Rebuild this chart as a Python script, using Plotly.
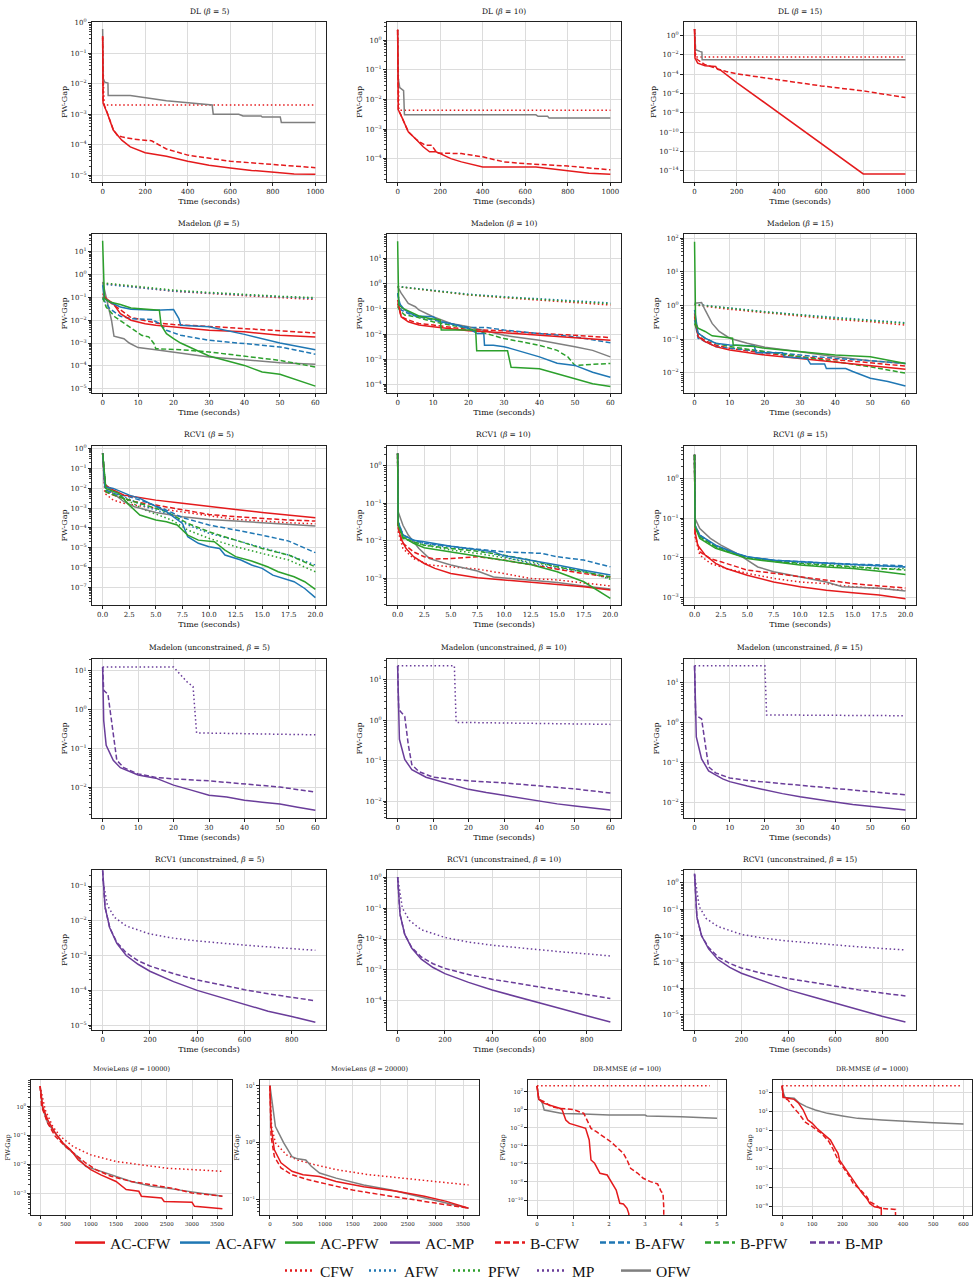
import math
import plotly.graph_objects as go

W, H = 980, 1284

# ---------------- data: time (s) and log10(FW-gap) ----------------
DL5 = {
    "AC-CFW": ([0, 2, 22, 50, 90, 130, 200, 300, 400, 500, 600, 700, 820, 900, 1000],
               [-0.45, -2.64, -2.97, -3.52, -3.85, -4.07, -4.26, -4.38, -4.54, -4.67, -4.76, -4.84, -4.91, -4.96, -4.97]),
    "B-CFW": ([0, 2, 22, 50, 70, 95, 150, 230, 300, 400, 600, 800, 1000],
              [-0.45, -2.6, -2.96, -3.5, -3.7, -3.75, -3.82, -3.87, -4.14, -4.34, -4.54, -4.65, -4.75]),
    "CFW": ([0, 2, 5, 8, 1000], [-0.5, -1.6, -2.3, -2.7, -2.7]),
    "OFW": ([0, 3, 10, 25, 26, 130, 300, 515, 520, 640, 660, 745, 750, 835, 840, 1000],
            [-0.21, -1.85, -1.95, -1.98, -2.39, -2.39, -2.56, -2.70, -3.0, -3.0, -3.06, -3.06, -3.09, -3.09, -3.27, -3.27]),
}
DL10 = {
    "AC-CFW": ([0, 3, 15, 25, 50, 90, 120, 150, 180, 200, 250, 300, 400, 650, 800, 900, 1000],
               [0.36, -2.35, -2.52, -2.69, -3.09, -3.37, -3.6, -3.77, -3.77, -3.83, -4.0, -4.11, -4.28, -4.28, -4.42, -4.49, -4.53]),
    "B-CFW": ([0, 3, 15, 25, 50, 90, 130, 160, 185, 300, 400, 500, 600, 800, 1000],
              [0.36, -2.35, -2.52, -2.69, -3.09, -3.37, -3.55, -3.55, -3.81, -3.83, -3.94, -4.11, -4.17, -4.25, -4.38]),
    "CFW": ([0, 3, 6, 1000], [0.36, -1.7, -2.36, -2.36]),
    "OFW": ([0, 3, 10, 28, 32, 650, 660, 705, 712, 1000],
            [0.36, -1.3, -1.6, -1.7, -2.52, -2.52, -2.57, -2.57, -2.63, -2.63]),
}
DL15 = {
    "AC-CFW": ([0, 2, 15, 50, 100, 110, 125, 200, 800, 1000],
               [0.7, -2.33, -2.85, -3.12, -3.2, -3.5, -3.6, -4.86, -14.34, -14.34]),
    "B-CFW": ([0, 3, 15, 50, 100, 150, 200, 400, 600, 800, 1000],
              [0.7, -2.22, -2.5, -3.02, -3.37, -3.72, -3.96, -4.58, -5.21, -5.73, -6.42]),
    "CFW": ([0, 3, 6, 1000], [0.7, -1.5, -2.22, -2.22]),
    "OFW": ([0, 5, 25, 35, 36, 1000], [0.7, -1.46, -1.63, -1.7, -2.5, -2.5]),
}
MAD5 = {
    "AC-CFW": ([0, 1, 3, 5, 8, 12, 15, 20, 30, 40, 50, 60],
               [-0.83, -1.05, -1.27, -1.71, -2.0, -2.15, -2.22, -2.29, -2.44, -2.51, -2.66, -2.73]),
    "AC-AFW": ([0, 0.5, 2, 5, 8, 15, 20, 21.5, 22, 30, 40, 50, 60],
               [-0.46, -1.05, -1.2, -1.42, -1.52, -1.56, -1.53, -1.93, -2.22, -2.29, -2.62, -3.0, -3.29]),
    "AC-PFW": ([0, 0.5, 2, 5, 8, 15, 16, 16.5, 18, 20, 22, 30, 40, 45, 50, 60],
               [1.48, -1.05, -1.2, -1.31, -1.46, -1.52, -1.56, -2.22, -2.59, -2.81, -3.0, -3.57, -3.98, -4.27, -4.37, -4.89]),
    "B-CFW": ([0, 2, 5, 8, 15, 20, 30, 40, 50, 60],
              [-0.98, -1.2, -1.56, -1.88, -2.12, -2.19, -2.27, -2.37, -2.47, -2.56]),
    "B-AFW": ([0, 2, 5, 8, 14, 16, 18, 22, 30, 40, 50, 60],
              [-1.05, -1.49, -1.83, -1.93, -1.97, -2.15, -2.44, -2.66, -2.88, -3.03, -3.17, -3.49]),
    "B-PFW": ([0, 1, 3.5, 7, 11, 13, 14.5, 15, 22, 30, 40, 50, 60],
              [-1.0, -1.42, -1.86, -2.22, -2.66, -2.73, -3.03, -3.25, -3.29, -3.39, -3.58, -3.76, -4.05]),
    "CFW": ([0, 10, 20, 30, 40, 50, 60], [-0.39, -0.57, -0.73, -0.83, -0.93, -1.01, -1.09]),
    "AFW": ([0, 10, 20, 30, 40, 50, 60], [-0.42, -0.58, -0.72, -0.81, -0.9, -0.98, -1.05]),
    "PFW": ([0, 10, 20, 30, 40, 50, 60], [-0.36, -0.53, -0.68, -0.78, -0.87, -0.95, -1.01]),
    "OFW": ([0, 1, 2.5, 3.2, 6, 7.5, 9, 10, 15, 20, 25, 30, 40, 50, 60],
            [-0.32, -0.98, -2.0, -2.7, -2.81, -3.0, -3.1, -3.2, -3.29, -3.39, -3.49, -3.61, -3.73, -3.86, -3.93]),
}
MAD10 = {
    "AC-CFW": ([0, 1, 3, 6, 10, 14, 20, 30, 40, 50, 60],
               [-0.64, -1.31, -1.51, -1.64, -1.71, -1.78, -1.87, -1.95, -2.05, -2.14, -2.25]),
    "AC-AFW": ([0, 0.5, 2, 5, 10, 12, 15, 20, 22.5, 24.3, 24.5, 27, 30, 32, 40, 45, 50, 55, 60],
               [-0.37, -0.78, -1.04, -1.28, -1.31, -1.51, -1.58, -1.78, -1.98, -1.98, -2.45, -2.45, -2.51, -2.58, -2.91, -3.16, -3.25, -3.52, -3.72]),
    "AC-PFW": ([0, 0.3, 1.5, 3, 6, 9, 12, 12.3, 22, 22.3, 31, 32, 40, 45, 50, 55, 60],
               [1.7, -0.84, -0.98, -1.08, -1.28, -1.38, -1.44, -1.84, -1.84, -2.67, -2.67, -3.32, -3.38, -3.58, -3.78, -3.98, -4.09]),
    "B-CFW": ([0, 1, 3, 6, 10, 15, 20, 30, 40, 50, 60],
              [-0.78, -1.31, -1.44, -1.58, -1.64, -1.74, -1.82, -1.87, -1.98, -2.05, -2.14]),
    "B-AFW": ([0, 1, 3, 6, 10, 15, 20, 25, 30, 40, 50, 60],
              [-0.37, -1.04, -1.18, -1.31, -1.44, -1.58, -1.74, -1.74, -1.84, -1.98, -2.11, -2.35]),
    "B-PFW": ([0, 0.5, 2, 5, 10, 15, 20, 25, 30, 35, 40, 45, 48, 50, 55, 60],
              [-0.9, -1.04, -1.24, -1.31, -1.51, -1.64, -1.78, -1.98, -2.18, -2.31, -2.45, -2.65, -2.91, -3.25, -3.22, -3.17]),
    "CFW": ([0, 10, 20, 30, 40, 50, 60], [-0.11, -0.28, -0.44, -0.55, -0.64, -0.75, -0.84]),
    "AFW": ([0, 10, 20, 30, 40, 50, 60], [-0.1, -0.26, -0.41, -0.51, -0.6, -0.7, -0.76]),
    "PFW": ([0, 10, 20, 30, 40, 50, 60], [-0.11, -0.27, -0.43, -0.53, -0.62, -0.72, -0.79]),
    "OFW": ([0, 1, 3, 5, 6, 10, 15, 20, 30, 40, 50, 55, 60],
            [-0.11, -0.37, -0.78, -0.91, -1.04, -1.31, -1.58, -1.71, -2.05, -2.25, -2.51, -2.65, -2.91]),
}
MAD15 = {
    "AC-CFW": ([0, 1, 3, 6, 10, 20, 30, 40, 50, 60],
               [-0.23, -0.92, -1.07, -1.22, -1.32, -1.47, -1.57, -1.67, -1.77, -1.89]),
    "AC-AFW": ([0, 1, 3, 6, 10, 17, 17.5, 25, 25.5, 32, 33, 37, 37.5, 43, 45, 50, 55, 60],
               [-0.13, -0.82, -0.97, -1.12, -1.17, -1.2, -1.4, -1.4, -1.52, -1.57, -1.74, -1.74, -1.87, -1.87, -1.96, -2.16, -2.26, -2.39]),
    "AC-PFW": ([0, 0.3, 1, 3, 5, 10.8, 11, 17, 20, 30, 40, 50, 58, 60],
               [1.9, -0.53, -0.67, -0.77, -0.9, -0.97, -1.17, -1.22, -1.27, -1.37, -1.47, -1.52, -1.67, -1.72]),
    "B-CFW": ([0, 1, 3, 6, 10, 20, 30, 40, 50, 60],
              [-0.33, -0.9, -1.04, -1.17, -1.27, -1.42, -1.52, -1.6, -1.7, -1.8]),
    "B-AFW": ([0, 1, 3, 6, 10, 20, 30, 40, 50, 60],
              [-0.43, -0.97, -1.07, -1.22, -1.27, -1.37, -1.47, -1.57, -1.64, -1.72]),
    "B-PFW": ([0, 1, 3, 6, 10, 20, 30, 40, 50, 60],
              [-0.53, -0.82, -0.97, -1.12, -1.22, -1.37, -1.52, -1.67, -1.82, -2.01]),
    "CFW": ([0, 10, 20, 30, 40, 50, 60], [0.02, -0.11, -0.21, -0.31, -0.41, -0.48, -0.58]),
    "AFW": ([0, 10, 20, 30, 40, 50, 60], [0.04, -0.08, -0.18, -0.27, -0.36, -0.43, -0.51]),
    "PFW": ([0, 10, 20, 30, 40, 50, 60], [0.03, -0.09, -0.19, -0.28, -0.38, -0.45, -0.53]),
    "OFW": ([0, 2, 3, 5, 7, 10, 15, 20, 30, 40, 50, 60],
            [0.07, 0.09, -0.13, -0.53, -0.77, -0.97, -1.12, -1.24, -1.37, -1.52, -1.64, -1.72]),
}
RCV5 = {
    "AC-CFW": ([0, 0.2, 1, 2, 3, 5, 7.5, 10, 12.5, 15, 17.5, 20],
               [-0.25, -1.84, -2.09, -2.35, -2.43, -2.6, -2.76, -2.9, -3.07, -3.22, -3.35, -3.48]),
    "AC-AFW": ([0, 0.2, 1, 2.5, 3.5, 5, 6, 7.5, 8, 9, 10, 11, 11.5, 13, 14, 15, 16, 18, 19, 20],
               [-0.25, -1.93, -2.01, -2.35, -2.51, -2.93, -3.18, -3.77, -4.44, -4.77, -4.94, -5.03, -5.36, -5.61, -5.86, -6.03, -6.37, -6.7, -7.04, -7.5]),
    "AC-PFW": ([0, 0.3, 1.5, 2.5, 3.5, 5, 6, 7, 8, 9, 10.5, 11.5, 12.5, 14, 15.5, 16.5, 18, 19, 20],
               [-0.25, -2.01, -2.26, -2.85, -3.35, -3.6, -3.69, -3.85, -4.36, -4.61, -4.69, -5.11, -5.44, -5.66, -5.95, -6.2, -6.45, -6.7, -7.09]),
    "B-CFW": ([0, 0.3, 1, 2, 3, 5, 7.5, 10, 12.5, 15, 17.5, 20],
              [-0.25, -2.18, -2.35, -2.51, -2.68, -2.85, -3.1, -3.32, -3.43, -3.52, -3.6, -3.65]),
    "B-AFW": ([0, 0.3, 1, 2.5, 4, 6, 7.5, 10, 12.5, 15, 17.5, 20],
              [-0.25, -2.09, -2.26, -2.43, -2.68, -3.1, -3.48, -3.85, -4.1, -4.36, -4.66, -5.24]),
    "B-PFW": ([0, 0.3, 1.5, 3, 6, 8, 10, 12.5, 15, 17.5, 20],
              [-0.25, -2.18, -2.43, -2.68, -3.18, -3.77, -4.19, -4.61, -5.03, -5.36, -5.95]),
    "CFW": ([0, 0.2, 1, 2, 4, 7, 10, 12.5, 15, 17.5, 20],
            [-0.25, -2.26, -2.6, -2.76, -2.93, -3.15, -3.38, -3.57, -3.65, -3.74, -3.79]),
    "AFW": ([0, 0.3, 2, 4, 6.5, 8, 10, 12.5, 15, 17.5, 20],
            [-0.25, -2.09, -2.43, -2.93, -3.35, -3.85, -4.27, -4.61, -4.99, -5.36, -5.86]),
    "PFW": ([0, 0.3, 2, 4, 6.5, 8, 10, 12.5, 15, 17.5, 20],
            [-0.25, -2.18, -2.51, -3.1, -3.6, -4.1, -4.52, -4.94, -5.28, -5.61, -6.2]),
    "OFW": ([0, 0.2, 1, 2, 3, 5, 7.5, 10, 12.5, 15, 17.5, 20],
            [-0.25, -1.76, -2.26, -2.68, -2.93, -3.22, -3.43, -3.57, -3.65, -3.74, -3.82, -3.9]),
}
RCV10 = {
    "AC-CFW": ([0, 0.05, 0.3, 0.8, 1.5, 2.5, 3.5, 5, 7.5, 10, 12.5, 15, 17.5, 20],
               [0.33, -1.59, -1.94, -2.21, -2.43, -2.61, -2.74, -2.88, -2.99, -3.05, -3.1, -3.17, -3.23, -3.32]),
    "AC-AFW": ([0, 0.05, 0.5, 1.5, 2.5, 5, 7.5, 9, 10, 12.5, 15, 17.5, 20],
               [0.33, -1.5, -1.85, -1.99, -2.03, -2.15, -2.24, -2.3, -2.4, -2.52, -2.65, -2.79, -2.92]),
    "AC-PFW": ([0, 0.05, 0.5, 1.5, 2.5, 5, 7.5, 10, 12.5, 15, 17.5, 20],
               [0.33, -1.59, -1.9, -2.07, -2.19, -2.3, -2.43, -2.52, -2.64, -2.83, -3.1, -3.54]),
    "B-CFW": ([0, 0.05, 0.5, 1.5, 2.5, 3.5, 5, 7.5, 10, 12.5, 15, 17.5, 20],
              [0.33, -1.67, -2.07, -2.3, -2.43, -2.49, -2.48, -2.43, -2.52, -2.64, -2.74, -2.88, -2.97]),
    "B-AFW": ([0, 0.05, 0.5, 1.5, 2.5, 5, 7.5, 10, 13.5, 15, 17.5, 20],
              [0.33, -1.5, -1.85, -1.99, -2.07, -2.16, -2.23, -2.3, -2.34, -2.43, -2.52, -2.7]),
    "B-PFW": ([0, 0.05, 0.5, 1.5, 2.5, 5, 7.5, 10, 12.5, 15, 17.5, 20],
              [0.33, -1.59, -1.94, -2.03, -2.12, -2.21, -2.28, -2.39, -2.52, -2.7, -2.83, -2.97]),
    "CFW": ([0, 0.05, 0.5, 1.5, 3, 5, 7.5, 10, 12.5, 15, 17.5, 20],
            [0.33, -1.76, -2.21, -2.48, -2.65, -2.7, -2.76, -2.88, -3.01, -3.05, -3.14, -3.21]),
    "AFW": ([0, 0.05, 0.5, 1.5, 2.5, 5, 7.5, 10, 12.5, 15, 17.5, 20],
            [0.33, -1.5, -1.85, -1.99, -2.07, -2.19, -2.25, -2.43, -2.61, -2.74, -2.83, -3.01]),
    "PFW": ([0, 0.05, 0.5, 1.5, 2.5, 5, 7.5, 10, 12.5, 15, 17.5, 20],
            [0.33, -1.59, -1.9, -2.03, -2.12, -2.25, -2.34, -2.46, -2.56, -2.7, -2.81, -3.03]),
    "OFW": ([0, 0.05, 0.5, 1, 2, 3, 5, 7.5, 9, 12.5, 15, 17.5, 20],
            [0.33, -1.23, -1.59, -1.85, -2.21, -2.48, -2.65, -2.81, -2.97, -3.05, -3.12, -3.21, -3.29]),
}
RCV15 = {
    "AC-CFW": ([0, 0.05, 0.3, 1, 2, 3, 5, 7.5, 10, 12.5, 15, 17.5, 20],
               [0.6, -1.34, -1.68, -1.93, -2.14, -2.27, -2.44, -2.61, -2.73, -2.82, -2.88, -2.94, -3.03]),
    "AC-AFW": ([0, 0.05, 0.5, 2, 4, 5, 7.5, 10, 12.5, 15, 17.5, 20],
               [0.6, -1.18, -1.43, -1.68, -1.89, -1.97, -2.06, -2.1, -2.14, -2.17, -2.2, -2.23]),
    "AC-PFW": ([0, 0.05, 0.5, 2, 4, 5, 7.5, 10, 12.5, 15, 17.5, 20],
               [0.6, -1.22, -1.51, -1.76, -1.93, -2.02, -2.1, -2.18, -2.23, -2.27, -2.34, -2.42]),
    "B-CFW": ([0, 0.05, 0.5, 1.5, 2.5, 4, 5, 7.5, 10, 12.5, 15, 17.5, 20],
              [0.6, -1.43, -1.85, -2.02, -2.1, -2.23, -2.31, -2.39, -2.48, -2.56, -2.65, -2.71, -2.76]),
    "B-AFW": ([0, 0.05, 0.5, 2, 4, 5, 7.5, 10, 12.5, 15, 17.5, 20],
              [0.6, -1.18, -1.43, -1.7, -1.9, -1.98, -2.06, -2.1, -2.13, -2.16, -2.18, -2.2]),
    "B-PFW": ([0, 0.05, 0.5, 2, 4, 5, 7.5, 10, 12.5, 15, 17.5, 20],
              [0.6, -1.22, -1.47, -1.72, -1.92, -2.0, -2.08, -2.14, -2.18, -2.22, -2.27, -2.31]),
    "CFW": ([0, 0.05, 0.5, 1.5, 3, 5, 7.5, 10, 12.5, 15, 17.5, 20],
            [0.6, -1.47, -1.93, -2.14, -2.27, -2.39, -2.52, -2.61, -2.65, -2.73, -2.77, -2.82]),
    "AFW": ([0, 0.05, 0.5, 2, 4, 5, 7.5, 10, 12.5, 15, 17.5, 20],
            [0.6, -1.2, -1.45, -1.7, -1.9, -1.98, -2.07, -2.12, -2.15, -2.18, -2.21, -2.23]),
    "PFW": ([0, 0.05, 0.5, 2, 4, 5, 7.5, 10, 12.5, 15, 17.5, 20],
            [0.6, -1.22, -1.48, -1.74, -1.92, -2.0, -2.09, -2.16, -2.2, -2.24, -2.28, -2.27]),
    "OFW": ([0, 0.05, 0.5, 1.5, 2.5, 4, 5, 6, 7.5, 10, 12.5, 14, 17.5, 20],
            [0.6, -1.01, -1.26, -1.51, -1.68, -1.89, -2.06, -2.23, -2.35, -2.48, -2.61, -2.73, -2.77, -2.84]),
}
MADU5 = {
    "AC-MP": ([0, 0.3, 1, 3, 5, 10, 15, 20, 25, 30, 35, 40, 45, 50, 55, 60],
              [1.1, -0.28, -0.92, -1.31, -1.5, -1.69, -1.77, -1.95, -2.08, -2.21, -2.26, -2.34, -2.39, -2.44, -2.52, -2.6]),
    "B-MP": ([0, 0.3, 1.5, 2.5, 4, 6, 10, 15, 20, 30, 40, 50, 60],
             [1.1, 0.5, 0.4, -0.28, -1.31, -1.5, -1.66, -1.75, -1.79, -1.84, -1.92, -2.0, -2.13]),
    "MP": ([0, 20, 24, 25.5, 26.5, 60], [1.1, 1.1, 0.7, 0.6, -0.6, -0.65]),
}
MADU10 = {
    "AC-MP": ([0, 0.5, 2, 4, 8, 10, 15, 20, 25, 30, 35, 40, 45, 50, 55, 60],
              [1.35, -0.47, -0.97, -1.22, -1.41, -1.46, -1.59, -1.71, -1.79, -1.86, -1.94, -2.0, -2.07, -2.12, -2.17, -2.22]),
    "B-MP": ([0, 0.3, 2, 3, 4, 6, 10, 15, 20, 30, 40, 50, 60],
             [1.35, 0.27, 0.1, -0.6, -1.1, -1.27, -1.41, -1.46, -1.5, -1.55, -1.62, -1.7, -1.8]),
    "MP": ([0, 16, 16.5, 60], [1.35, 1.35, -0.05, -0.1]),
}
MADU15 = {
    "AC-MP": ([0, 0.5, 2, 4, 8, 10, 15, 20, 25, 30, 35, 40, 45, 50, 55, 60],
              [1.43, -0.35, -0.9, -1.2, -1.4, -1.47, -1.58, -1.68, -1.77, -1.85, -1.92, -1.98, -2.04, -2.09, -2.14, -2.18]),
    "B-MP": ([0, 0.3, 2, 3, 4, 6, 10, 15, 20, 30, 40, 50, 60],
             [1.43, 0.2, 0.1, -0.5, -1.1, -1.25, -1.38, -1.44, -1.48, -1.55, -1.63, -1.71, -1.8]),
    "MP": ([0, 20, 20.5, 60], [1.43, 1.43, 0.2, 0.18]),
}
RCVU_T = [0, 10, 30, 60, 100, 150, 200, 300, 400, 500, 600, 700, 800, 900]
RCVU_MP_T = [0, 20, 50, 100, 200, 300, 400, 500, 600, 700, 800, 900]
RCVU5 = {
    "AC-MP": (RCVU_T, [-0.55, -1.6, -2.2, -2.65, -3.0, -3.25, -3.45, -3.75, -4.0, -4.2, -4.4, -4.6, -4.75, -4.92]),
    "B-MP": (RCVU_T, [-0.55, -1.6, -2.2, -2.62, -2.92, -3.15, -3.3, -3.52, -3.7, -3.85, -3.98, -4.1, -4.2, -4.3]),
    "MP": (RCVU_MP_T, [-0.8, -1.55, -1.9, -2.15, -2.38, -2.5, -2.58, -2.65, -2.7, -2.75, -2.8, -2.85]),
}
RCVU10 = {
    "AC-MP": (RCVU_T, [0.0, -1.2, -1.85, -2.3, -2.65, -2.92, -3.12, -3.4, -3.65, -3.85, -4.05, -4.27, -4.48, -4.68]),
    "B-MP": (RCVU_T, [0.0, -1.2, -1.85, -2.28, -2.58, -2.8, -2.95, -3.15, -3.3, -3.42, -3.55, -3.68, -3.8, -3.92]),
    "MP": (RCVU_MP_T, [0.0, -1.0, -1.4, -1.7, -1.95, -2.1, -2.2, -2.28, -2.35, -2.42, -2.48, -2.55]),
}
RCVU15 = {
    "AC-MP": (RCVU_T, [0.35, -1.3, -2.0, -2.5, -2.9, -3.2, -3.42, -3.75, -4.05, -4.3, -4.55, -4.8, -5.05, -5.27]),
    "B-MP": (RCVU_T, [0.35, -1.3, -2.0, -2.45, -2.8, -3.05, -3.22, -3.45, -3.62, -3.77, -3.92, -4.05, -4.17, -4.28]),
    "MP": (RCVU_MP_T, [0.3, -0.9, -1.35, -1.65, -1.95, -2.1, -2.2, -2.28, -2.35, -2.42, -2.48, -2.54]),
}
ML1 = {
    "AC-CFW": ([0, 50, 150, 300, 450, 600, 750, 1000, 1200, 1500, 1700, 1950, 2000, 2400, 2450, 3000, 3050, 3600],
               [0.71, 0, -0.46, -0.92, -1.26, -1.49, -1.84, -2.18, -2.36, -2.59, -2.87, -2.93, -3.1, -3.16, -3.28, -3.31, -3.45, -3.53]),
    "B-CFW": ([0, 30, 150, 300, 500, 700, 900, 1100, 1400, 1800, 2200, 2600, 3000, 3600],
              [0.71, 0, -0.57, -1.03, -1.38, -1.67, -1.95, -2.18, -2.41, -2.59, -2.7, -2.82, -2.99, -3.1]),
    "CFW": ([0, 100, 250, 400, 650, 1000, 1500, 2000, 2500, 3000, 3600],
            [0.71, -0.11, -0.69, -1.03, -1.38, -1.67, -1.9, -2.01, -2.13, -2.18, -2.24]),
    "OFW": ([0, 50, 150, 350, 500, 700, 900, 1100, 1500, 1800, 2200, 2500, 3000, 3600],
            [0.71, -0.06, -0.57, -1.03, -1.38, -1.67, -2.07, -2.18, -2.41, -2.59, -2.76, -2.82, -2.95, -3.1]),
}
ML2 = {
    "AC-CFW": ([0, 20, 80, 200, 400, 600, 900, 1200, 1700, 2300, 2800, 3200, 3600],
               [1, 0.28, -0.13, -0.36, -0.51, -0.57, -0.6, -0.69, -0.78, -0.86, -0.95, -1.04, -1.16]),
    "B-CFW": ([0, 20, 80, 200, 400, 700, 1100, 1500, 2000, 2500, 3000, 3600],
              [1, 0.11, -0.25, -0.45, -0.57, -0.66, -0.75, -0.84, -0.92, -1.0, -1.07, -1.16]),
    "CFW": ([0, 30, 100, 300, 500, 800, 1200, 1800, 2400, 3000, 3600],
            [1, 0.28, -0.01, -0.22, -0.31, -0.39, -0.48, -0.57, -0.63, -0.69, -0.75]),
    "OFW": ([0, 100, 250, 400, 500, 650, 750, 900, 1200, 1700, 2200, 2700, 3200, 3600],
            [1, 0.28, -0.01, -0.25, -0.29, -0.31, -0.42, -0.54, -0.63, -0.75, -0.84, -0.95, -1.07, -1.16]),
}
DR100 = {
    "AC-CFW": ([0, 0.05, 0.2, 0.35, 0.5, 0.65, 0.7, 0.8, 0.9, 1.2, 1.35, 1.45, 1.5, 1.6, 1.75, 1.95, 2.05, 2.2, 2.3, 2.4, 2.5, 2.55, 2.56],
               [2.66, 1.15, 0.71, 0.52, 0.34, 0.15, -0.03, -1.14, -1.51, -1.87, -2.06, -3.35, -5.56, -5.93, -7.04, -7.23, -7.96, -8.89, -10.36, -10.44, -10.92, -11.5, -20]),
    "B-CFW": ([0, 0.05, 0.2, 0.4, 0.65, 1.0, 1.3, 1.4, 1.5, 1.65, 1.85, 2.05, 2.2, 2.4, 2.5, 2.6, 2.8, 2.95, 3.15, 3.35, 3.45, 3.5, 3.52, 3.53],
              [2.66, 1.15, 0.89, 0.34, 0.15, 0.04, -0.4, -1.32, -2.06, -2.43, -2.98, -3.54, -4.09, -4.83, -5.56, -6.49, -7.04, -7.59, -7.96, -8.22, -9.07, -9.25, -10.73, -20]),
    "CFW": ([0, 4.8], [2.66, 2.66]),
    "OFW": ([0, 0.05, 0.1, 0.15, 0.2, 0.4, 0.7, 1.3, 2, 3, 3.05, 4, 5],
            [2.66, 1.15, 1.08, 0.71, -0.03, -0.21, -0.4, -0.47, -0.58, -0.58, -0.69, -0.77, -0.95]),
}
DR1000 = {
    "AC-CFW": ([0, 5, 20, 40, 55, 70, 85, 100, 115, 135, 160, 175, 185, 190, 205, 220, 235, 250, 265, 280, 290, 305, 328, 329],
               [3.7, 2.47, 2.37, 2.26, 1.84, 1.13, 0.08, -0.27, -0.8, -1.33, -2.04, -2.92, -3.44, -4.15, -4.85, -5.56, -6.26, -6.96, -7.67, -8.2, -8.73, -9.08, -9.2, -20]),
    "B-CFW": ([0, 3, 20, 35, 55, 75, 100, 130, 155, 170, 185, 200, 220, 235, 260, 280, 290, 310, 325, 375, 377],
              [3.7, 2.47, 2.19, 1.49, 0.78, -0.1, -0.63, -1.33, -2.21, -3.09, -4.15, -4.85, -5.73, -6.61, -7.32, -8.02, -8.55, -8.9, -9.25, -9.36, -20]),
    "CFW": ([0, 590], [3.7, 3.7]),
    "OFW": ([0, 3, 10, 40, 55, 80, 110, 150, 200, 250, 330, 420, 500, 600],
            [3.7, 3.07, 2.44, 2.37, 1.91, 1.49, 1.13, 0.78, 0.5, 0.25, 0.08, -0.1, -0.2, -0.35]),
}

LEGEND_ROW1 = ["AC-CFW", "AC-AFW", "AC-PFW", "AC-MP", "B-CFW", "B-AFW", "B-PFW", "B-MP"]
LEGEND_ROW2 = ["CFW", "AFW", "PFW", "MP", "OFW"]

# ---------------- styles ----------------
RED, BLUE, GREEN, PURPLE, GRAY = "#e41a1c", "#1f77b4", "#2ca02c", "#6a3d9a", "#7f7f7f"
DASH, DOT = "5px,2.5px", "1.5px,2.6px"
STYLE = {
    "AC-CFW": (RED, "solid"), "AC-AFW": (BLUE, "solid"), "AC-PFW": (GREEN, "solid"), "AC-MP": (PURPLE, "solid"),
    "B-CFW": (RED, DASH), "B-AFW": (BLUE, DASH), "B-PFW": (GREEN, DASH), "B-MP": (PURPLE, DASH),
    "CFW": (RED, DOT), "AFW": (BLUE, DOT), "PFW": (GREEN, DOT), "MP": (PURPLE, DOT), "OFW": (GRAY, "solid"),
}
DRAW_ORDER = ["CFW", "AFW", "PFW", "MP", "OFW", "B-CFW", "B-AFW", "B-PFW", "B-MP",
              "AC-CFW", "AC-AFW", "AC-PFW", "AC-MP"]

COLS = [(92, 326), (387, 621), (684, 916)]
ROWS = [(22, 182), (234, 393), (446, 605), (659, 818), (870, 1030)]
BCOLS = [(31, 232), (260, 479), (528, 726), (773, 972)]
BROW = (1080, 1215)

B = "<i>β</i>"
X_DL = ([-50, 1050], [0, 200, 400, 600, 800, 1000], None)
X_MAD = ([-3, 63], [0, 10, 20, 30, 40, 50, 60], None)
X_RCV = ([-1, 21], [0, 2.5, 5, 7.5, 10, 12.5, 15, 17.5, 20], ".1f")
X_RU = ([-45, 945], [0, 200, 400, 600, 800], None)
X_ML = ([-180, 3790], [0, 500, 1000, 1500, 2000, 2500, 3000, 3500], None)

# (data, title, x-box, y-box, x-axis, log10 y-range, y-tick step, y-tick parity, small)
panels = [
    (DL5, f"DL ({B} = 5)", COLS[0], ROWS[0], X_DL, (-5.22, 0.02), 1, 0, False),
    (DL10, f"DL ({B} = 10)", COLS[1], ROWS[0], X_DL, (-4.79, 0.62), 1, 0, False),
    (DL15, f"DL ({B} = 15)", COLS[2], ROWS[0], X_DL, (-15.18, 1.42), 2, 0, False),
    (MAD5, f"Madelon ({B} = 5)", COLS[0], ROWS[1], X_MAD, (-5.19, 1.78), 1, 0, False),
    (MAD10, f"Madelon ({B} = 10)", COLS[1], ROWS[1], X_MAD, (-4.35, 1.99), 1, 0, False),
    (MAD15, f"Madelon ({B} = 15)", COLS[2], ROWS[1], X_MAD, (-2.6, 2.13), 1, 0, False),
    (RCV5, f"RCV1 ({B} = 5)", COLS[0], ROWS[2], X_RCV, (-7.87, 0.12), 1, 0, False),
    (RCV10, f"RCV1 ({B} = 10)", COLS[1], ROWS[2], X_RCV, (-3.72, 0.53), 1, 0, False),
    (RCV15, f"RCV1 ({B} = 15)", COLS[2], ROWS[2], X_RCV, (-3.19, 0.82), 1, 0, False),
    (MADU5, f"Madelon (unconstrained, {B} = 5)", COLS[0], ROWS[3], X_MAD, (-2.8, 1.31), 1, 0, False),
    (MADU10, f"Madelon (unconstrained, {B} = 10)", COLS[1], ROWS[3], X_MAD, (-2.42, 1.52), 1, 0, False),
    (MADU15, f"Madelon (unconstrained, {B} = 15)", COLS[2], ROWS[3], X_MAD, (-2.38, 1.6), 1, 0, False),
    (RCVU5, f"RCV1 (unconstrained, {B} = 5)", COLS[0], ROWS[4], X_RU, (-5.14, -0.54), 1, 0, False),
    (RCVU10, f"RCV1 (unconstrained, {B} = 10)", COLS[1], ROWS[4], X_RU, (-4.94, 0.23), 1, 0, False),
    (RCVU15, f"RCV1 (unconstrained, {B} = 15)", COLS[2], ROWS[4], X_RU, (-5.57, 0.49), 1, 0, False),
    (ML1, f"MovieLens ({B} = 10000)", BCOLS[0], BROW, X_ML, (-3.75, 0.92), 1, 0, True),
    (ML2, f"MovieLens ({B} = 20000)", BCOLS[1], BROW, X_ML, (-1.28, 1.1), 1, 0, True),
    (DR100, "DR-MMSE (<i>d</i> = 100)", BCOLS[2], BROW, ([-0.25, 5.25], [0, 1, 2, 3, 4, 5], None), (-11.66, 3.3), 2, 0, True),
    (DR1000, "DR-MMSE (<i>d</i> = 1000)", BCOLS[3], BROW, ([-30, 628], [0, 100, 200, 300, 400, 500, 600], None), (-9.95, 4.3), 2, 1, True),
]

FONT = "DejaVu Serif"
fig = go.Figure()
layout = {}
annotations = []


def sup(k):
    return "10<sup>" + str(k).replace("-", "\u2212") + "</sup>"


for i, (data, title, (x0, x1), (y0, y1), (xr, xt, xfmt), (ylo, yhi), ystep, parity, small) in enumerate(panels):
    n = i + 1
    xs = "" if n == 1 else str(n)
    tick_fs = 5.5 if small else 7
    lab_fs = 6.5 if small else 8
    ttl_fs = 6.5 if small else 7.5
    ks = [k for k in range(math.ceil(ylo), math.floor(yhi) + 1) if (k - parity) % ystep == 0]
    minor = []
    if ystep == 1:
        for k in range(math.floor(ylo), math.ceil(yhi) + 1):
            for m in range(2, 10):
                v = math.log10(m) + k
                if ylo <= v <= yhi:
                    minor.append(m * 10.0 ** k)
    layout["xaxis" + xs] = dict(
        domain=[x0 / W, x1 / W], range=xr, anchor="y" + xs, showline=True, mirror=True,
        linecolor="#222", linewidth=1, showgrid=True, gridcolor="#dcdcdc", gridwidth=0.8,
        tickmode="array", tickvals=xt, ticks="outside", ticklen=3, tickcolor="#222",
        tickformat=xfmt if xfmt else "d", tickfont=dict(family=FONT, size=tick_fs, color="#222"),
        zeroline=False,
        title=None if small else dict(text="Time (seconds)", font=dict(family=FONT, size=lab_fs, color="#111"), standoff=2),
    )
    layout["yaxis" + xs] = dict(
        domain=[1 - y1 / H, 1 - y0 / H], type="log", range=[ylo, yhi], anchor="x" + xs,
        showline=True, mirror=True, linecolor="#222", linewidth=1, showgrid=True,
        gridcolor="#dcdcdc", gridwidth=0.8, tickmode="array", tickvals=[10.0 ** k for k in ks],
        ticktext=[sup(k) for k in ks], ticks="outside", ticklen=3, tickcolor="#222",
        tickfont=dict(family=FONT, size=tick_fs, color="#222"), zeroline=False,
        minor=dict(tickmode="array", tickvals=minor, ticks="outside", ticklen=1.6, tickcolor="#444", showgrid=False),
        title=dict(text="FW-Gap", font=dict(family=FONT, size=lab_fs, color="#111"), standoff=1),
    )
    annotations.append(dict(
        text=title, x=(x0 + x1) / 2 / W, y=1 - (y0 - 11) / H, xref="paper", yref="paper",
        showarrow=False, xanchor="center", yanchor="middle",
        font=dict(family=FONT, size=ttl_fs, color="#111"),
    ))
    for name in DRAW_ORDER:
        if name not in data:
            continue
        t, lg = data[name]
        color, dash = STYLE[name]
        fig.add_trace(go.Scatter(
            x=t, y=[10.0 ** v for v in lg], xaxis="x" + xs, yaxis="y" + xs, mode="lines",
            line=dict(color=color, width=1.5, dash=dash), showlegend=False, hoverinfo="skip",
        ))

LDASH, LDOT = "6px,3px", "2px,3px"
for lg_name, names in (("legend", LEGEND_ROW1), ("legend2", LEGEND_ROW2)):
    for name in names:
        color, dash = STYLE[name]
        d = "solid" if dash == "solid" else (LDASH if dash == DASH else LDOT)
        fig.add_trace(go.Scatter(
            x=[None], y=[None], mode="lines", name=name, legend=lg_name,
            line=dict(color=color, width=2.5, dash=d), hoverinfo="skip",
        ))

LEG_FONT = dict(family="Liberation Serif", size=15.5, color="#111")
fig.update_layout(
    width=W, height=H, margin=dict(l=0, r=0, t=0, b=0, autoexpand=False),
    paper_bgcolor="white", plot_bgcolor="white", annotations=annotations,
    legend=dict(orientation="h", x=0.5, xanchor="center", y=1 - 1243 / H, yanchor="middle",
                font=LEG_FONT, bgcolor="rgba(0,0,0,0)", itemwidth=30,
                entrywidth=60, entrywidthmode="pixels"),
    legend2=dict(orientation="h", x=0.5, xanchor="center", y=1 - 1271 / H, yanchor="middle",
                 font=LEG_FONT, bgcolor="rgba(0,0,0,0)", itemwidth=30,
                 entrywidth=39, entrywidthmode="pixels"),
    **layout,
)
fig.write_html("out.html")
